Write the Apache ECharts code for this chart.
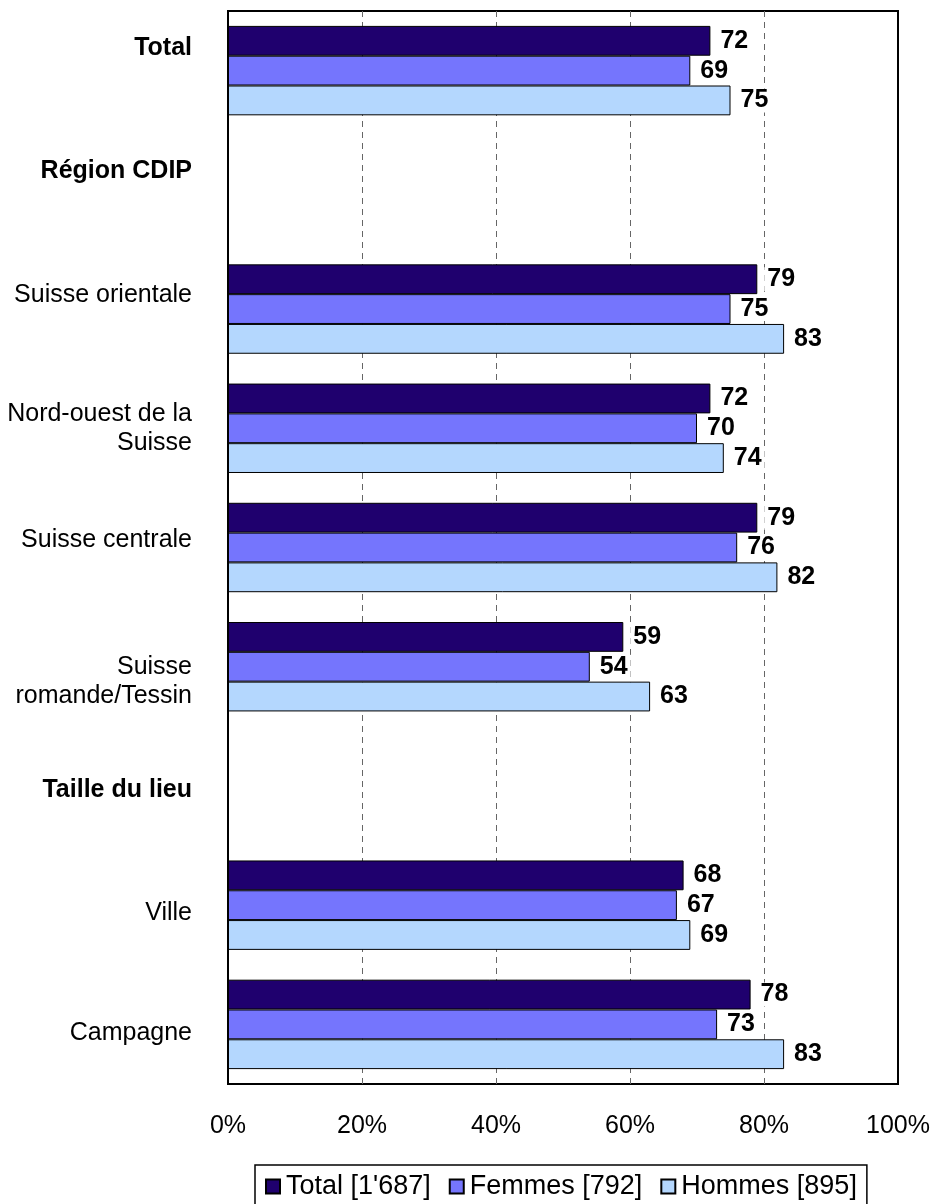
<!DOCTYPE html>
<html>
<head>
<meta charset="utf-8">
<script src="https://cdn.jsdelivr.net/npm/echarts@6/dist/echarts.min.js"></script>
<style>
  html, body { margin: 0; padding: 0; background: #fff; }
  #chart { width: 936px; height: 1204px; }
</style>
</head>
<body>
<div id="chart"></div>
<script>
// ---- data ----
const categories = ['Total', 'Région CDIP', 'Suisse orientale', 'Nord-ouest de la\nSuisse', 'Suisse centrale', 'Suisse\nromande/Tessin', 'Taille du lieu', 'Ville', 'Campagne'];
const headerCategories = ['Total', 'Région CDIP', 'Taille du lieu'];
const seriesNames = ["Total [1'687]", 'Femmes [792]', 'Hommes [895]'];
const totalValues  = [72, null, 79, 72, 79, 59, null, 68, 78];
const femmesValues = [69, null, 75, 70, 76, 54, null, 67, 73];
const hommesValues = [75, null, 83, 74, 82, 63, null, 69, 83];
const xTickValues = [0, 20, 40, 60, 80, 100];

// ---- layout (vertical nudge of single-line category labels, px; negative = up) ----
const labelNudge = [-23, -19, -14, 0, -7, 0, 4, 8, 9];

const FONT = '"Liberation Sans", Arial, sans-serif';
const colors = ['#1F006E', '#7575FD', '#B4D7FE'];

const rich = {};
categories.forEach((c, i) => {
  const bold = headerCategories.includes(c) ? 'bold' : 'normal';
  const s = labelNudge[i];
  rich['s' + i] = {
    fontSize: 25, fontFamily: FONT, color: '#000', fontWeight: bold, lineHeight: 29, align: 'right',
    padding: s < 0 ? [0, 0, -2 * s, 0] : [2 * s, 0, 0, 0]
  };
});

function catLabel(value) {
  const i = categories.indexOf(value);
  if (value.indexOf('\n') < 0) return '{s' + i + '|' + value + '}';
  // two-line labels: the lower one sits a little below the band centre
  return i === 5 ? ' \n' + value : value;
}

function barSeries(name, data, color) {
  return {
    name: name,
    type: 'bar',
    data: data,
    barGap: '0%',
    barCategoryGap: '25%',
    itemStyle: { color: color, borderColor: '#000', borderWidth: 1 },
    label: {
      show: true,
      position: 'right',
      distance: 7,
      formatter: p => (p.value == null ? '' : String(p.value)),
      fontFamily: FONT,
      fontSize: 25,
      fontWeight: 'bold',
      color: '#000',
      backgroundColor: '#fff',
      padding: [0, 3],
      lineHeight: 24
    },
    emphasis: { disabled: true },
    animation: false
  };
}

const chart = echarts.init(document.getElementById('chart'), null, { renderer: 'canvas' });
chart.setOption({
  animation: false,
  backgroundColor: '#fff',
  textStyle: { fontFamily: FONT },
  color: colors,
  grid: {
    left: 228, right: 38, top: 11, bottom: 120,
    show: true, borderColor: '#000', borderWidth: 2, backgroundColor: 'transparent',
    containLabel: false
  },
  legend: {
    data: seriesNames,
    left: 255,
    top: 1165,
    icon: 'rect',
    itemWidth: 14,
    itemHeight: 14,
    itemGap: 18,
    padding: [8, 10, 10, 10],
    borderColor: '#000',
    borderWidth: 1.5,
    textStyle: { fontSize: 27, fontFamily: FONT, color: '#000', padding: [0, 0, 0, 1] },
    selectedMode: false
  },
  xAxis: {
    type: 'value',
    min: xTickValues[0],
    max: xTickValues[xTickValues.length - 1],
    interval: xTickValues[1] - xTickValues[0],
    axisLine: { show: false },
    axisTick: { show: false },
    axisLabel: { formatter: '{value}%', fontSize: 25, fontFamily: FONT, color: '#000', margin: 30 },
    splitLine: { show: true, showMinLine: false, showMaxLine: false, lineStyle: { color: '#666', type: [6, 5], width: 1 } }
  },
  yAxis: {
    type: 'category',
    data: categories,
    inverse: true,
    z: 5,
    axisLine: { show: true, lineStyle: { color: '#000', width: 2 } },
    axisTick: { show: false },
    axisLabel: {
      margin: 36, formatter: catLabel, rich: rich, align: 'right',
      fontSize: 25, fontFamily: FONT, color: '#000', lineHeight: 29
    }
  },
  series: [
    barSeries(seriesNames[0], totalValues, colors[0]),
    barSeries(seriesNames[1], femmesValues, colors[1]),
    barSeries(seriesNames[2], hommesValues, colors[2])
  ]
});
</script>
</body>
</html>
